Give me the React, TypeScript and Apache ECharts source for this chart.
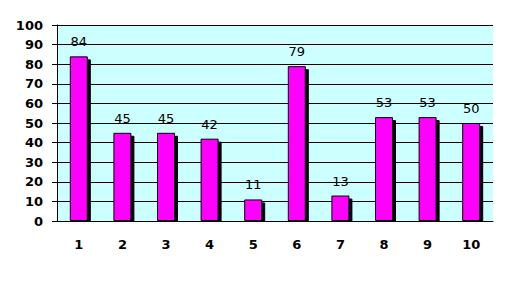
import React, { useEffect, useRef } from "react";
import * as echarts from "echarts";

const categories = ["1", "2", "3", "4", "5", "6", "7", "8", "9", "10"];
const values = [84, 45, 45, 42, 11, 79, 13, 53, 53, 50];
const yTicks = { min: 0, max: 100, interval: 10 };

export default function App() {
  const ref = useRef<HTMLDivElement>(null);
  useEffect(() => {
    document.body.style.margin = "0";
    const chart = echarts.init(ref.current!, null, { renderer: "svg" });
    chart.setOption({
      animation: false,
      backgroundColor: "#ffffff",
      grid: {
        left: 57,
        right: 27,
        top: 25,
        bottom: 61,
        show: true,
        backgroundColor: "#CCFFFF",
        borderWidth: 0,
      },
      graphic: [
        {
          type: "rect",
          left: 58,
          top: 222,
          shape: { width: 440, height: 5 },
          style: { fill: "#ffffff" },
          z: 100,
        },
      ],
      xAxis: {
        type: "category",
        data: categories,
        z: 200,
        axisLine: { show: true, lineStyle: { color: "#000", width: 1 } },
        axisTick: { show: false },
        axisLabel: {
          color: "#000",
          fontFamily: "DejaVu Sans",
          fontWeight: "bold",
          fontSize: 13,
          margin: 17,
        },
      },
      yAxis: {
        type: "value",
        min: yTicks.min,
        max: yTicks.max,
        interval: yTicks.interval,
        axisLine: { show: true, lineStyle: { color: "#000", width: 1 } },
        axisTick: { show: true, length: 5, lineStyle: { color: "#000" } },
        splitLine: { show: true, lineStyle: { color: "#000", width: 1 } },
        axisLabel: {
          color: "#000",
          fontFamily: "DejaVu Sans",
          fontWeight: "bold",
          fontSize: 13,
          margin: 14,
        },
      },
      series: [
        {
          type: "bar",
          data: values,
          barWidth: 18,
          itemStyle: {
            color: "#FF00FF",
            borderColor: "#000",
            borderWidth: 1,
            shadowColor: "#000",
            shadowOffsetX: 3,
            shadowOffsetY: 3,
            shadowBlur: 0,
          },
          label: {
            show: true,
            position: "top",
            distance: 8,
            color: "#000",
            fontFamily: "DejaVu Sans",
            fontSize: 13,
          },
        },
      ],
    });
    return () => chart.dispose();
  }, []);
  return <div ref={ref} style={{ width: 520, height: 282 }} />;
}
